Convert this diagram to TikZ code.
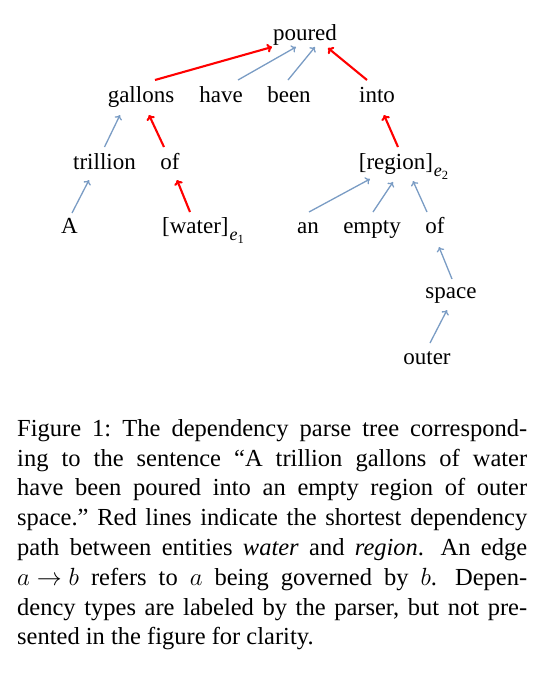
\documentclass[tikz,border=0pt]{standalone}
\usepackage{fontspec}
\setmainfont{Liberation Serif}
\usetikzlibrary{arrows.meta}
\definecolor{depblue}{RGB}{122,156,196}
\definecolor{depred}{RGB}{255,0,0}
\newcommand{\entsub}[1]{\hspace{1pt}\raisebox{-7.5pt}{\fontsize{18}{18}\selectfont\textit{e}\raisebox{-3pt}{\fontsize{12.5}{12.5}\selectfont #1}}}

\begin{document}
\begin{tikzpicture}[
    x=1pt, y=1pt,
    word/.style={anchor=base, inner sep=0pt, font=\fontsize{23}{28}\selectfont},
    dep/.style={depblue, line width=1.3pt, -{To[length=4.5pt,width=8pt]}},
    sdp/.style={depred, line width=2.1pt, -{To[length=5pt,width=9pt]}}
]
\useasboundingbox (0,0) rectangle (546,-683);
% Tree levels
\node[word] (poured) at (305,-40) {poured};
\node[word] (gallons) at (141,-102) {gallons};
\node[word] (have) at (221,-102) {have};
\node[word] (been) at (289,-102) {been};
\node[word] (into) at (377,-102) {into};
\node[word] (trillion) at (104.5,-169) {trillion};
\node[word] (of) at (170,-169) {of};
\node[word] (region) at (403.5,-169) {[region]\entsub{2}};
\node[word] (A) at (69.5,-233) {A};
\node[word] (water) at (203,-233) {[water]\entsub{1}};
\node[word] (an) at (308,-233) {an};
\node[word] (empty) at (372,-233) {empty};
\node[word] (of2) at (435,-233) {of};
\node[word] (space) at (451,-298) {space};
\node[word] (outer) at (427,-364) {outer};
% Shortest dependency path
\foreach \a/\ax/\ay/\b/\bx/\by in {gallons/14/22/poured/-33/-7, into/-10/22/poured/23/-8,
    of/-6/22/gallons/8/-13, water/-13/21/of/7/-11, region/-5.5/22/into/7/-13} {
    \draw[sdp] ([shift={(\ax,\ay)}]\a.base) -- ([shift={(\bx,\by)}]\b.base);
}
% Other dependencies
\foreach \a/\ax/\ay/\b/\bx/\by in {have/17/22/poured/-9/-7, been/-1/22/poured/10/-7,
    trillion/0/22/gallons/-21/-13, A/2.5/20/trillion/-15.5/-11,
    an/1/21/region/-33.5/-10, empty/1/21/region/-10.5/-13, of2/-8/21/region/9.5/-12,
    space/1/19/of2/4/-14, outer/3/21/space/-4/-12} {
    \draw[dep] ([shift={(\ax,\ay)}]\a.base) -- ([shift={(\bx,\by)}]\b.base);
}
% Caption
\node[anchor=north west, inner sep=0pt, text width=510pt, align=justify,
    font=\fontsize{24.5}{29.8}\selectfont\frenchspacing] (caption) at (17,-419)
    {Figure 1: The dependency parse tree correspond-\linebreak
    ing to the sentence “A trillion gallons of water\linebreak
    have been poured into an empty region of outer\linebreak
    space.” Red lines indicate the shortest dependency\linebreak
    path between entities \emph{water} and \emph{region}.\hspace{0.25em} An edge\linebreak
    $a\mskip5mu{\rightarrow}\mskip5mu b$ refers to $a$ being governed by $b$.\hspace{0.25em} Depen-\linebreak
    dency types are labeled by the parser, but not pre-\linebreak
    sented in the figure for clarity.};
\end{tikzpicture}
\end{document}
